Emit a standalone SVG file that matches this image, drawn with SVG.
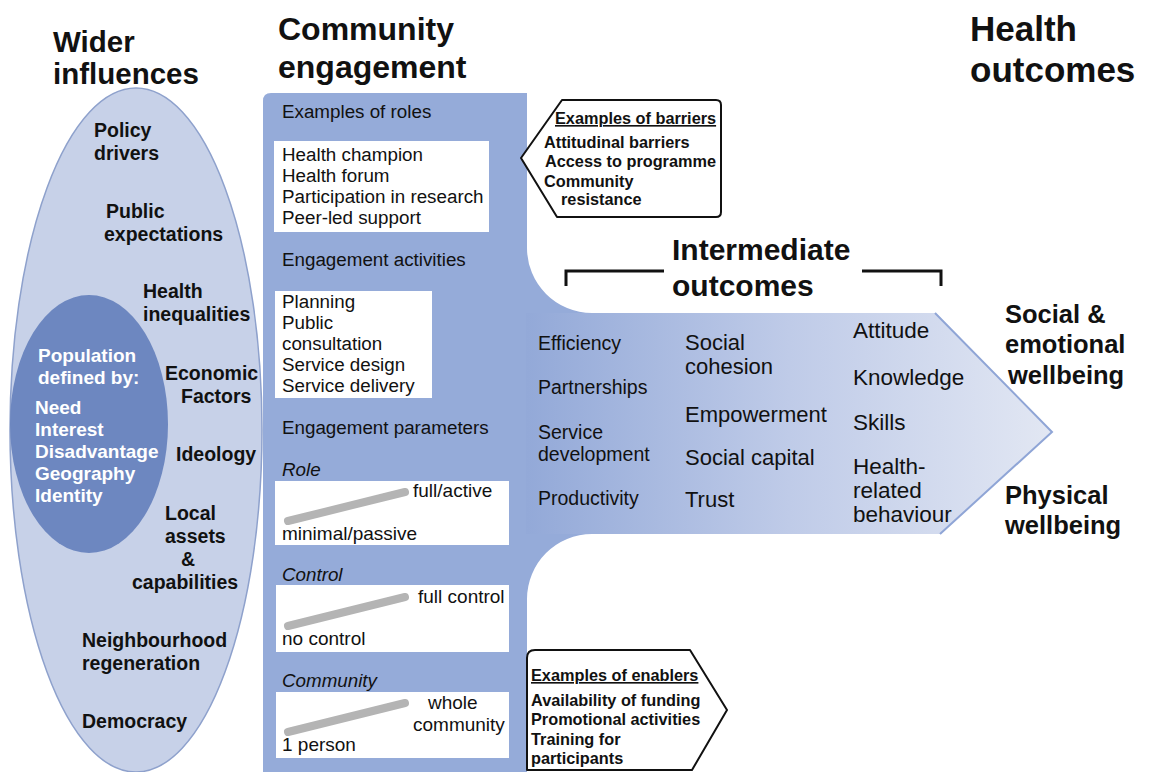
<svg xmlns="http://www.w3.org/2000/svg" width="1149" height="772" viewBox="0 0 1149 772">
<defs>
<linearGradient id="bandGrad" gradientUnits="userSpaceOnUse" x1="527" y1="0" x2="1052" y2="0">
<stop offset="0" stop-color="#93a9d8"/>
<stop offset="0.5" stop-color="#bfcbe8"/>
<stop offset="1" stop-color="#e2e7f3"/>
</linearGradient>
<style>
text{font-family:"Liberation Sans",Arial,sans-serif;fill:#111}
.h{font-weight:bold}
.b{font-weight:bold;font-size:19.5px}
.w{font-weight:bold;font-size:19px;fill:#fff}
.p{font-size:18.8px}
.i{font-size:18.8px;font-style:italic}
.s{font-size:19px}
.c1{font-size:19.5px}
.c2{font-size:22px}
.c3{font-size:22.5px}
.ex{font-weight:bold;font-size:16.3px}
.box{fill:#fff}
.slider{stroke:#b4b4b4;stroke-width:8;stroke-linecap:round}
.callout{fill:#fff;stroke:#111;stroke-width:2;stroke-linejoin:round}
.bracket{fill:none;stroke:#111;stroke-width:3}
</style>
</defs>
<rect x="0" y="0" width="1149" height="772" fill="#fff"/>

<!-- Headings -->
<g id="headings">
<text class="h" x="53" y="52" font-size="29.5">Wider</text>
<text class="h" x="53" y="84" font-size="29.5">influences</text>
<text class="h" x="278" y="40" font-size="32">Community</text>
<text class="h" x="278" y="78" font-size="32">engagement</text>
<text class="h" x="970" y="41" font-size="35">Health</text>
<text class="h" x="970" y="82" font-size="35">outcomes</text>
</g>

<!-- Wider influences ellipse -->
<g id="wider-influences">
<ellipse cx="136" cy="430" rx="126" ry="342" fill="#c7d1e8" stroke="#8ea1cc" stroke-width="1.5"/>
<text class="b" x="94" y="137">Policy</text>
<text class="b" x="94" y="160">drivers</text>
<text class="b" x="106" y="218">Public</text>
<text class="b" x="104" y="241">expectations</text>
<text class="b" x="143" y="298">Health</text>
<text class="b" x="143" y="321">inequalities</text>
<text class="b" x="165" y="380">Economic</text>
<text class="b" x="181" y="403">Factors</text>
<text class="b" x="176" y="461">Ideology</text>
<text class="b" x="165" y="520">Local</text>
<text class="b" x="165" y="543">assets</text>
<text class="b" x="181" y="566">&amp;</text>
<text class="b" x="132" y="589">capabilities</text>
<text class="b" x="82" y="647">Neighbourhood</text>
<text class="b" x="82" y="670">regeneration</text>
<text class="b" x="82" y="728">Democracy</text>
</g>

<g id="population">
<ellipse cx="89" cy="424" rx="79" ry="129" fill="#6d87c0"/>
<text class="w" x="38" y="362">Population</text>
<text class="w" x="38" y="384">defined by:</text>
<text class="w" x="35" y="414">Need</text>
<text class="w" x="35" y="436">Interest</text>
<text class="w" x="35" y="458">Disadvantage</text>
<text class="w" x="35" y="480">Geography</text>
<text class="w" x="35" y="502">Identity</text>
</g>

<!-- Community engagement panel and outcome arrow -->
<g id="engagement-panel">
<path d="M271,93 L527,93 L527,772 L263,772 L263,101 Q263,93 271,93 Z" fill="#95abd9"/>
<path d="M526,313 L935,313 L1052,432 L940,534 L526,534 Z" fill="url(#bandGrad)"/>
<path d="M527,248 A65,65 0 0 0 592,313 L527,313 Z" fill="#95abd9"/>
<path d="M527,534 L592,534 A65,65 0 0 0 527,599 Z" fill="#95abd9"/>
<path d="M935,313 L1052,432 L940,534" fill="none" stroke="#8fa5d6" stroke-width="2"/>

<text class="p" x="282" y="118">Examples of roles</text>
<rect class="box" x="274" y="141" width="215" height="91"/>
<text class="p" x="282" y="161">Health champion</text>
<text class="p" x="282" y="182">Health forum</text>
<text class="p" x="282" y="203">Participation in research</text>
<text class="p" x="282" y="224">Peer-led support</text>

<text class="p" x="282" y="266">Engagement activities</text>
<rect class="box" x="275" y="291" width="157" height="107"/>
<text class="p" x="282" y="308">Planning</text>
<text class="p" x="282" y="329">Public</text>
<text class="p" x="282" y="350">consultation</text>
<text class="p" x="282" y="371">Service design</text>
<text class="p" x="282" y="392">Service delivery</text>

<text class="p" x="282" y="434">Engagement parameters</text>

<text class="i" x="282" y="476">Role</text>
<rect class="box" x="275" y="481" width="234" height="64"/>
<line class="slider" x1="288" y1="521" x2="405" y2="492"/>
<text class="s" x="413" y="497">full/active</text>
<text class="s" x="282" y="540">minimal/passive</text>

<text class="i" x="282" y="581">Control</text>
<rect class="box" x="276" y="585" width="233" height="67"/>
<line class="slider" x1="288" y1="626" x2="405" y2="597"/>
<text class="s" x="418" y="603">full control</text>
<text class="s" x="282" y="645">no control</text>

<text class="i" x="282" y="687">Community</text>
<rect class="box" x="276" y="692" width="233" height="66"/>
<line class="slider" x1="288" y1="732" x2="405" y2="703"/>
<text class="s" x="428" y="709">whole</text>
<text class="s" x="413" y="731">community</text>
<text class="s" x="282" y="751">1 person</text>
</g>

<!-- Barriers callout -->
<g id="barriers">
<path class="callout" d="M562,100 L716,100 Q721,100 721,105 L721,212 Q721,217 716,217 L557,217 L521,158 Z"/>
<text class="ex" x="555" y="124" text-decoration="underline">Examples of barriers</text>
<text class="ex" x="544" y="148">Attitudinal barriers</text>
<text class="ex" x="545" y="167">Access to programme</text>
<text class="ex" x="544" y="187">Community</text>
<text class="ex" x="561" y="205">resistance</text>
</g>

<!-- Intermediate outcomes -->
<g id="intermediate-outcomes">
<path class="bracket" d="M566,286 L566,271 L664,271"/>
<path class="bracket" d="M862,271 L941,271 L941,286"/>
<text class="h" x="672" y="260" font-size="30">Intermediate</text>
<text class="h" x="672" y="296" font-size="30">outcomes</text>

<text class="c1" x="538" y="350">Efficiency</text>
<text class="c1" x="538" y="394">Partnerships</text>
<text class="c1" x="538" y="439">Service</text>
<text class="c1" x="538" y="461">development</text>
<text class="c1" x="538" y="505">Productivity</text>

<text class="c2" x="685" y="350">Social</text>
<text class="c2" x="685" y="374">cohesion</text>
<text class="c2" x="685" y="422">Empowerment</text>
<text class="c2" x="685" y="465">Social capital</text>
<text class="c2" x="685" y="507">Trust</text>

<text class="c3" x="853" y="338">Attitude</text>
<text class="c3" x="853" y="385">Knowledge</text>
<text class="c3" x="853" y="430">Skills</text>
<text class="c3" x="853" y="474">Health-</text>
<text class="c3" x="853" y="498">related</text>
<text class="c3" x="853" y="522">behaviour</text>
</g>

<!-- Health outcomes -->
<g id="health-outcomes">
<text class="h" x="1005" y="323" font-size="25.5">Social &amp;</text>
<text class="h" x="1005" y="353" font-size="25.5">emotional</text>
<text class="h" x="1008" y="384" font-size="25.5">wellbeing</text>
<text class="h" x="1005" y="504" font-size="25.5">Physical</text>
<text class="h" x="1005" y="534" font-size="25.5">wellbeing</text>
</g>

<!-- Enablers callout -->
<g id="enablers">
<path class="callout" d="M535,650 L690,650 L727,710 L692,770 L527,770 L527,658 Q527,650 535,650 Z"/>
<text class="ex" x="531" y="681" text-decoration="underline">Examples of enablers</text>
<text class="ex" x="531" y="706">Availability of funding</text>
<text class="ex" x="531" y="725">Promotional activities</text>
<text class="ex" x="531" y="745">Training for</text>
<text class="ex" x="531" y="764">participants</text>
</g>

<g id="connectors"></g>
</svg>
